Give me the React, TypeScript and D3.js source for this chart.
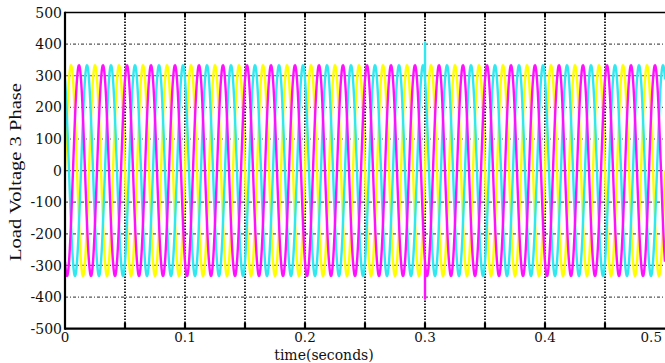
import React from "react";
import * as d3 from "d3";

// ---- data ----
const phaseNames = ["Va", "Vb", "Vc"];
const amplitudes = [333, 333, 333];
const phaseShiftsDeg = [0, -120, 120];
const frequencyHz = [50];
const timeRange = [0, 0.5];
const sampleStep = [0.0001];
// transient at t = 0.3 s (peak value per phase; null = no spike)
const spikeTimes = [0.3];
const spikeValues = [[null, -405, 405]];
const xTicks = [0, 0.1, 0.2, 0.3, 0.4, 0.5];
const xGrid = [0.05, 0.1, 0.15, 0.2, 0.25, 0.3, 0.35, 0.4, 0.45];
const yTicks = [500, 400, 300, 200, 100, 0, -100, -200, -300, -400, -500];

const colors = ["#ffff00", "#ff10ff", "#30e8f0"];
const drawOrder = [0, 2, 1];

const W = 665;
const H = 363;
const M = { left: 65, right: 665, top: 12.5, bottom: 328.7 };

export default function App() {
  const x = d3.scaleLinear().domain([0, 0.5]).range([M.left, M.right]);
  const y = d3.scaleLinear().domain([-500, 500]).range([M.bottom, M.top]);

  const times = d3.range(timeRange[0], timeRange[1] + sampleStep[0] / 2, sampleStep[0]);

  const series = phaseNames.map((_, i) => {
    const pts: [number, number][] = times.map((t) => [
      t,
      amplitudes[i] * Math.sin(2 * Math.PI * frequencyHz[0] * t + (phaseShiftsDeg[i] * Math.PI) / 180),
    ]);
    spikeTimes.forEach((st, k) => {
      const v = spikeValues[k][i];
      if (v === null) return;
      const idx = pts.findIndex((p) => p[0] >= st - 1e-9);
      if (idx >= 0) pts.splice(idx + 1, 0, [st + 0.00001, v], [st + 0.00002, pts[idx][1]]);
    });
    return pts;
  });

  const line = d3
    .line<[number, number]>()
    .x((d) => x(d[0]))
    .y((d) => y(d[1]));

  const serif = "'DejaVu Serif', 'Liberation Serif', serif";

  return (
    <svg
      width={W}
      height={H}
      style={{ position: "absolute", left: 0, top: 0, background: "#fff" }}
    >
      <defs>
        <clipPath id="plotclip">
          <rect x={M.left} y={M.top} width={M.right - M.left + 2} height={M.bottom - M.top} />
        </clipPath>
      </defs>
      {/* horizontal grid */}
      {yTicks
        .filter((v) => v !== 500 && v !== -500)
        .map((v) => (
          <line
            key={"h" + v}
            x1={M.left}
            x2={M.right}
            y1={y(v)}
            y2={y(v)}
            stroke="#555"
            strokeWidth={1.2}
            strokeDasharray="3,2,1,2"
          />
        ))}
      {/* vertical grid */}
      {xGrid.map((v) => (
        <line
          key={"v" + v}
          x1={x(v)}
          x2={x(v)}
          y1={M.top}
          y2={M.bottom}
          stroke="#111"
          strokeWidth={1.8}
          strokeDasharray="1.5,1.5"
        />
      ))}
      {/* waves */}
      <g clipPath="url(#plotclip)">
        {drawOrder.map((i) => (
          <path
            key={phaseNames[i]}
            d={line(series[i]) || ""}
            fill="none"
            stroke={colors[i]}
            strokeWidth={2.4}
            strokeLinejoin="round"
          />
        ))}
      </g>
      {/* bottom ticks */}
      {xGrid.map((v) => (
        <line key={"bt" + v} x1={x(v)} x2={x(v)} y1={M.bottom} y2={M.bottom - 6} stroke="#000" strokeWidth={2.2} />
      ))}
      {/* top ticks */}
      {xGrid.map((v) => (
        <line key={"tt" + v} x1={x(v)} x2={x(v)} y1={M.top} y2={M.top + 5} stroke="#000" strokeWidth={2} />
      ))}
      {/* frame */}
      <line x1={M.left} x2={M.right} y1={M.top} y2={M.top} stroke="#000" strokeWidth={1.6} />
      <line x1={M.left} x2={M.right} y1={M.bottom} y2={M.bottom} stroke="#000" strokeWidth={2.2} />
      <line x1={M.left} x2={M.left} y1={M.top - 0.8} y2={M.bottom + 1.1} stroke="#000" strokeWidth={2.2} />
      {/* y tick labels */}
      {yTicks.map((v) => (
        <text
          key={"yl" + v}
          x={M.left - 3}
          y={y(v)}
          dy="0.36em"
          textAnchor="end"
          fontFamily={serif}
          fontSize={14}
          fill="#111"
        >
          {v}
        </text>
      ))}
      {/* x tick labels */}
      {xTicks.map((v, i) => (
        <text
          key={"xl" + v}
          x={i === xTicks.length - 1 ? x(v) - 3 : x(v)}
          y={M.bottom + 13}
          textAnchor={i === xTicks.length - 1 ? "end" : "middle"}
          fontFamily={serif}
          fontSize={13.5}
          fill="#111"
        >
          {v}
        </text>
      ))}
      {/* axis titles */}
      <text
        x={324}
        y={360}
        textAnchor="middle"
        fontFamily={serif}
        fontSize={14}
        fill="#111"
      >
        time(seconds)
      </text>
      <text
        transform={`translate(21,${172}) rotate(-90)`}
        textAnchor="middle"
        fontFamily="'Liberation Serif', serif"
        fontSize={17}
        textLength={178}
        lengthAdjust="spacingAndGlyphs"
        fill="#111"
      >
        Load Voltage 3 Phase
      </text>
    </svg>
  );
}
